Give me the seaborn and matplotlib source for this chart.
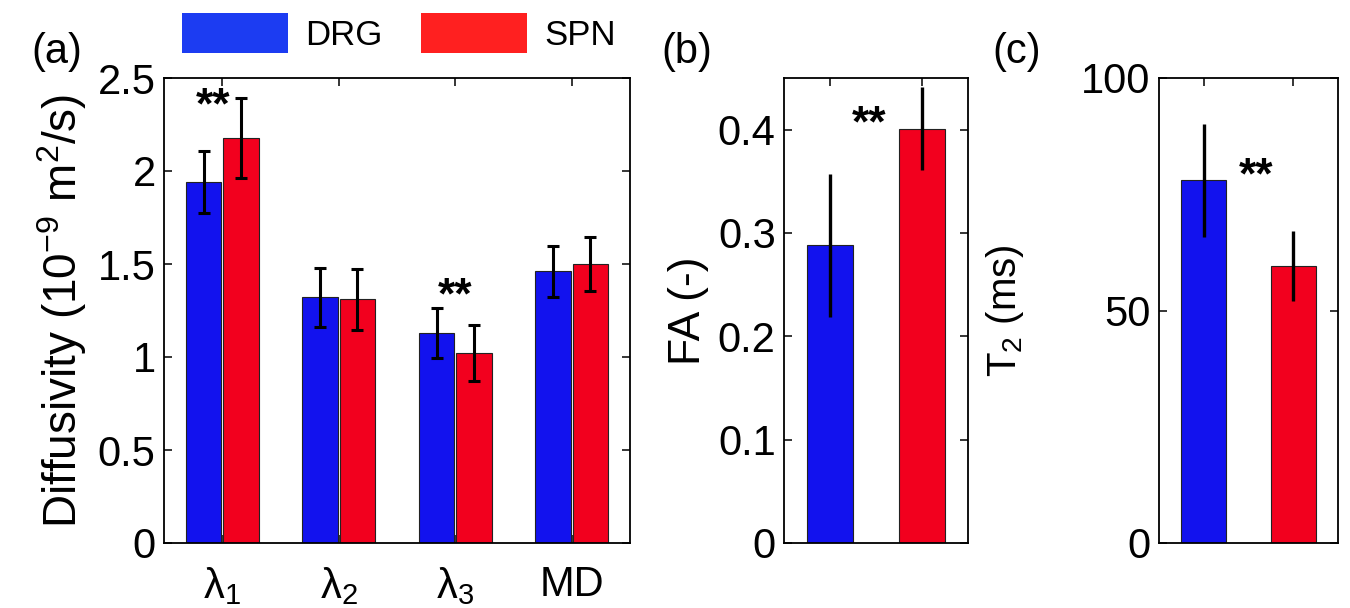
import numpy as np
import pandas as pd
import matplotlib
matplotlib.use("Agg")
import matplotlib.pyplot as plt
from matplotlib.patches import Patch
import seaborn as sns

# ---- data ----
params = ["l1", "l2", "l3", "MD"]
param_labels = [r"$\mathrm{\lambda_1}$", r"$\mathrm{\lambda_2}$", r"$\mathrm{\lambda_3}$", "MD"]
groups = ["DRG", "SPN"]

drg_diff = [1.94, 1.32, 1.13, 1.46]
drg_diff_sd = [0.165, 0.16, 0.133, 0.135]
spn_diff = [2.18, 1.31, 1.02, 1.50]
spn_diff_sd = [0.215, 0.165, 0.15, 0.145]

fa_vals = [0.288, 0.401]
fa_sd = [0.069, 0.040]

t2_vals = [78.0, 59.5]
t2_sd = [12.2, 7.5]

diff_ticks = [0, 0.5, 1, 1.5, 2, 2.5]
diff_ticklabels = ["0", "0.5", "1", "1.5", "2", "2.5"]
fa_ticks = [0, 0.1, 0.2, 0.3, 0.4]
fa_ticklabels = ["0", "0.1", "0.2", "0.3", "0.4"]
t2_ticks = [0, 50, 100]
t2_ticklabels = ["0", "50", "100"]

blue = "#1212ee"
red = "#f2001e"
colors = {"DRG": blue, "SPN": red}

sns.set_style("ticks")
plt.rcParams["font.family"] = ["Liberation Sans", "DejaVu Sans"]
plt.rcParams["mathtext.fontset"] = "custom"
plt.rcParams["mathtext.rm"] = "Liberation Sans"
plt.rcParams["mathtext.it"] = "Liberation Sans:italic"
plt.rcParams["mathtext.bf"] = "Liberation Sans:bold"
for key in ["text.color", "axes.labelcolor", "xtick.color", "ytick.color", "axes.edgecolor"]:
    plt.rcParams[key] = "black"

fig = plt.figure(figsize=(13.5, 6.08), dpi=100)
W, H = 1350, 608


def box(l, t, r, b):
    return [l / W, 1 - b / H, (r - l) / W, (b - t) / H]


ax_a = fig.add_axes(box(164, 78, 630, 543))
ax_b = fig.add_axes(box(784, 78, 968, 543))
ax_c = fig.add_axes(box(1159, 78, 1338, 543))


def style(ax):
    for s in ax.spines.values():
        s.set_visible(True)
        s.set_color("black")
        s.set_linewidth(1.3)
    ax.tick_params(direction="in", top=True, right=True, length=6, width=1.1,
                   labelsize=30, pad=6, colors="black")
    ax.set_xlabel("")


bar_kw = dict(errorbar=None, edgecolor="#222222", linewidth=0.8,
              saturation=1, legend=False)

# ---- (a) diffusivity ----
df_a = pd.DataFrame({
    "param": params * 2,
    "group": ["DRG"] * 4 + ["SPN"] * 4,
    "value": drg_diff + spn_diff,
})
sns.barplot(data=df_a, x="param", y="value", hue="group", palette=colors,
            width=0.64, gap=0.05, ax=ax_a, **bar_kw)
for cont, vals, sds in zip(ax_a.containers, [drg_diff, spn_diff], [drg_diff_sd, spn_diff_sd]):
    xs = [b.get_x() + b.get_width() / 2 for b in cont]
    ax_a.errorbar(xs, vals, yerr=sds, fmt="none", ecolor="black",
                  elinewidth=2.2, capsize=4, capthick=2.2)
ax_a.set_xlim(-0.5, 3.5)
ax_a.set_ylim(0, 2.5)
ax_a.set_yticks(diff_ticks)
ax_a.set_yticklabels(diff_ticklabels)
ax_a.set_xticks(range(len(params)))
ax_a.set_xticklabels(param_labels)
style(ax_a)
ax_a.tick_params(axis="x", pad=16)
ax_a.set_ylabel(r"Diffusivity (10$^{-9}$ m$^{2}$/s)", fontsize=33, labelpad=6)
ax_a.text(-0.08, 2.285, "**", ha="center", va="baseline", fontsize=32, fontweight="bold")
ax_a.text(2.0, 1.263, "**", ha="center", va="baseline", fontsize=32, fontweight="bold")

# ---- (b) FA ----
df_b = pd.DataFrame({"group": groups, "value": fa_vals})
sns.barplot(data=df_b, x="group", y="value", hue="group", palette=colors,
            width=0.5, ax=ax_b, **bar_kw)
xs = [b.get_x() + b.get_width() / 2 for b in ax_b.patches]
ax_b.errorbar(xs, fa_vals, yerr=fa_sd, fmt="none", ecolor="black", elinewidth=2.4)
ax_b.set_xlim(-0.5, 1.5)
ax_b.set_ylim(0, 0.45)
ax_b.set_yticks(fa_ticks)
ax_b.set_yticklabels(fa_ticklabels)
style(ax_b)
ax_b.tick_params(axis="x", labelbottom=False)
ax_b.set_ylabel("FA (-)", fontsize=32, labelpad=6)
ax_b.text(0.43, 0.393, "**", ha="center", va="baseline", fontsize=32, fontweight="bold")

# ---- (c) T2 ----
df_c = pd.DataFrame({"group": groups, "value": t2_vals})
sns.barplot(data=df_c, x="group", y="value", hue="group", palette=colors,
            width=0.5, ax=ax_c, **bar_kw)
xs = [b.get_x() + b.get_width() / 2 for b in ax_c.patches]
ax_c.errorbar(xs, t2_vals, yerr=t2_sd, fmt="none", ecolor="black", elinewidth=2.4)
ax_c.set_xlim(-0.5, 1.5)
ax_c.set_ylim(0, 100)
ax_c.set_yticks(t2_ticks)
ax_c.set_yticklabels(t2_ticklabels)
style(ax_c)
ax_c.tick_params(axis="x", labelbottom=False)
ax_c.set_ylabel(r"T$_2$ (ms)", fontsize=29, labelpad=40)
ax_c.text(0.58, 76.3, "**", ha="center", va="baseline", fontsize=32, fontweight="bold")

# panel letters
for lbl, x in [("(a)", 57), ("(b)", 687), ("(c)", 1017)]:
    fig.text(x / W, 1 - 52 / H, lbl, ha="center", va="center", fontsize=30)

# legend
handles = [Patch(facecolor="#1c3cf2", edgecolor="none"),
           Patch(facecolor="#ff2020", edgecolor="none")]
fig.legend(handles, groups, loc="center", bbox_to_anchor=(399 / W, 1 - 33 / H),
           ncol=2, frameon=False, fontsize=25, handlelength=3.05, handleheight=1.37,
           handletextpad=0.5, columnspacing=1.1)

fig.savefig("out.png", dpi=100)
